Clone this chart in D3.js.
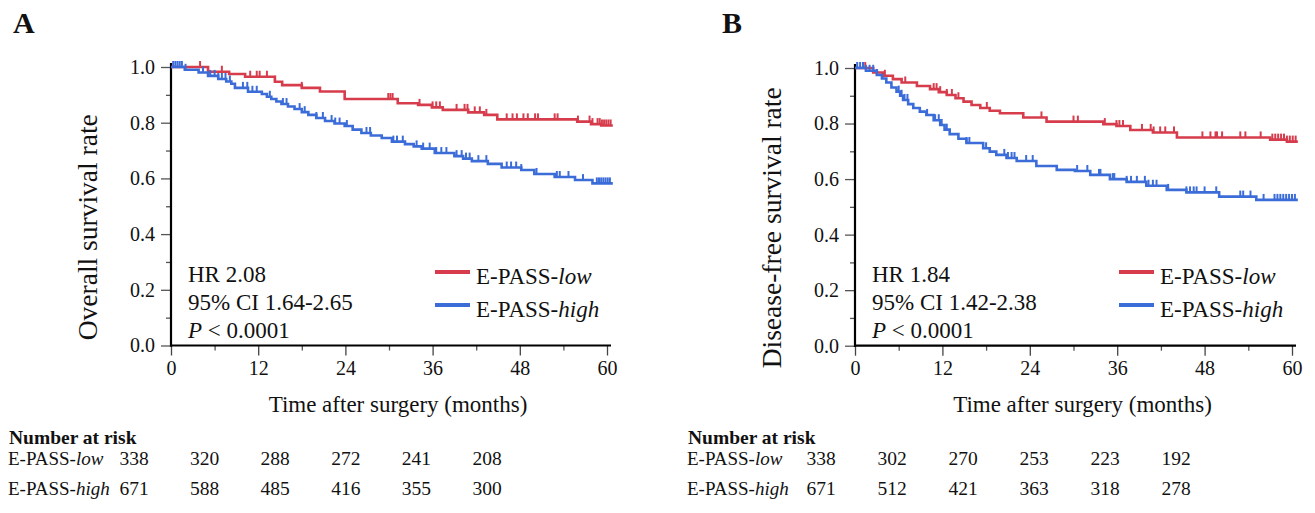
<!DOCTYPE html>
<html>
<head>
<meta charset="utf-8">
<script src="https://cdn.jsdelivr.net/npm/d3@7"></script>
<style>
  body { margin: 0; background: #fff; }
  svg text { font-family: "Liberation Serif", "Times New Roman", serif; fill: #111; }
</style>
</head>
<body>
<svg id="chart" width="1315" height="513"></svg>
<script>
// axis ticks
const monthTicks = [0, 12, 24, 36, 48, 60];
const monthMinor = [6, 18, 30, 42, 54];
const survTicks = [0, 0.2, 0.4, 0.6, 0.8, 1.0];
const survMinor = [0.1, 0.3, 0.5, 0.7, 0.9];
const groups = ["low", "high"];

// Kaplan-Meier steps [month, survival]
const osLow = [[0,1],[5.1,0.983],[8,0.975],[10.2,0.965],[14.3,0.947],[15.3,0.935],[18,0.925],[20.5,0.912],
  [23.9,0.885],[31.2,0.87],[34,0.864],[35.9,0.855],[37.4,0.846],[40.9,0.837],[43.1,0.828],[44.9,0.812],
  [55.9,0.804],[57.8,0.795],[59.2,0.79]];
const osHigh = [[0,1],[1.9,0.99],[3.8,0.98],[5.1,0.968],[6.5,0.957],[7.6,0.948],[8.3,0.94],[8.8,0.925],
  [10.6,0.911],[12.5,0.903],[13.2,0.893],[13.8,0.885],[14.5,0.876],[15.2,0.867],[16.1,0.858],[17,0.849],
  [18,0.838],[18.9,0.828],[20,0.817],[21.2,0.806],[22.5,0.797],[23.9,0.788],[25,0.775],[26.2,0.763],
  [27.5,0.754],[29,0.745],[30.4,0.732],[32.2,0.723],[33.4,0.715],[34.5,0.707],[36.3,0.691],[39,0.68],
  [40.2,0.671],[41.4,0.662],[43.6,0.652],[45.5,0.639],[48.2,0.63],[50,0.616],[52.8,0.605],[55.6,0.594],[58,0.582]];
const dfsLow = [[0,1],[2.5,0.984],[3.8,0.972],[5.2,0.96],[6.4,0.948],[8.5,0.935],[10.3,0.924],[11.5,0.913],
  [12.6,0.903],[13.8,0.891],[14.9,0.879],[16,0.867],[17.2,0.856],[18.5,0.846],[19.9,0.837],[23.1,0.822],
  [26.3,0.807],[34.1,0.798],[35.9,0.791],[37.8,0.777],[40.9,0.768],[44.2,0.75],[57,0.742],[59.3,0.735]];
const dfsHigh = [[0,1],[1.5,0.99],[3,0.975],[3.7,0.962],[4.3,0.948],[5,0.93],[5.7,0.915],[6.2,0.9],
  [6.6,0.885],[7.3,0.87],[8,0.856],[8.9,0.843],[9.8,0.831],[10.8,0.812],[11.7,0.795],[12.3,0.778],
  [13,0.762],[14.2,0.745],[15.3,0.73],[17.6,0.711],[18.5,0.699],[19.4,0.687],[20.8,0.676],[22.2,0.665],
  [24.9,0.647],[27.7,0.633],[30.2,0.629],[32.3,0.615],[35,0.6],[37.3,0.59],[40,0.576],[42.8,0.561],
  [45.5,0.552],[50,0.537],[55.1,0.525]];
const followEnd = 60.8;

// censor marks (months)
const osLowCens = [4,7,10.9,11.8,12.2,13.2,14.3,18,29.9,30.2,30.5,34.2,36,36.5,37,39.3,40.4,40.8,41.8,42.5,
  43.4,46.2,47,47.6,48.5,49.1,50.1,50.5,52.8,53.2,56,57.6,58,58.7,59,59.3,59.6,59.9,60.2,60.5];
const osHighCens = [0.3,0.6,0.9,1.2,1.5,2,4.4,5.4,6,6.5,7,7.5,8.1,9.9,10.5,11.2,11.8,13.6,15.4,15.9,17.7,18.4,
  20,20.9,22.1,22.6,23.2,24.2,26.9,27.4,30.6,31.1,31.9,33.8,34.7,35.6,36.5,37.2,37.9,39.3,40,40.6,41.1,42.3,
  43.4,46.2,46.8,47.5,48.2,50.3,53.1,53.5,54.7,56.7,58.6,58.9,59.2,59.5,59.8,60.1,60.4];
const dfsLowCens = [1.4,4.1,6.9,10.8,11.2,11.7,12.6,13.3,14.2,18.1,25.6,30,30.6,34.3,35.9,36.3,36.8,39.4,40.6,
  41,41.9,42.6,43.8,47.7,48.8,49.5,49.7,50.4,52.9,53.6,55.7,57.3,57.7,58.1,58.5,58.9,59.3,59.7,60.1,60.5];
const dfsHighCens = [0.3,0.7,1.1,1.5,2,2.5,3,6,6.4,6.8,7.2,9.9,11,11.5,11.9,12.6,15.3,15.7,18,20.5,21,21.5,
  21.9,23.5,24.4,30.5,31.9,33.5,33.7,35.4,35.6,37.3,37.9,38.7,39.8,40.3,40.9,41.4,43,45.5,46,46.5,46.9,48,
  49.6,52.9,53.3,54.3,56.1,57.6,58,58.4,58.8,59.2,59.6,60,60.4];

// number at risk
const riskMonths = [0, 12, 24, 36, 48, 60];
const osRiskLow = [338, 320, 288, 272, 241, 208];
const osRiskHigh = [671, 588, 485, 416, 355, 300];
const dfsRiskLow = [338, 302, 270, 253, 223, 192];
const dfsRiskHigh = [671, 512, 421, 363, 318, 278];

const osStats = ["HR 2.08", "95% CI 1.64-2.65", "0.0001"];
const dfsStats = ["HR 1.84", "95% CI 1.42-2.38", "0.0001"];

const colors = { low: "#d63c4c", high: "#3b6cd8" };
const svg = d3.select("#chart");

const panels = [
  { label: "A", title: "Overall survival rate", x0: 171, x1: 607, y0: 345.5, y1: 67,
    steps: { low: osLow, high: osHigh }, cens: { low: osLowCens, high: osHighCens },
    risk: { low: osRiskLow, high: osRiskHigh }, stats: osStats,
    labelX: 13, tableX: 8, riskRange: [134, 487] },
  { label: "B", title: "Disease-free survival rate", x0: 855, x1: 1292, y0: 345.7, y1: 68,
    steps: { low: dfsLow, high: dfsHigh }, cens: { low: dfsLowCens, high: dfsHighCens },
    risk: { low: dfsRiskLow, high: dfsRiskHigh }, stats: dfsStats,
    labelX: 722, tableX: 687, riskRange: [821, 1176] }
];

panels.forEach(drawPanel);

function drawPanel(p) {
  const x = d3.scaleLinear().domain([0, 60]).range([p.x0, p.x1]);
  const y = d3.scaleLinear().domain([0, 1]).range([p.y0, p.y1]);
  const g = svg.append("g");

  // panel letter
  g.append("text").attr("x", p.labelX).attr("y", 33)
    .style("font-size", "30px").style("font-weight", "bold").text(p.label);

  // y axis
  const yAxis = g.append("g").attr("transform", `translate(${p.x0},0)`)
    .call(d3.axisLeft(y).tickValues(survTicks).tickFormat(d3.format(".1f")).tickSize(10).tickPadding(6));
  yAxis.select(".domain").remove();
  yAxis.selectAll("line").attr("stroke", "#555").attr("stroke-width", 1.3);
  yAxis.selectAll("text").style("font-size", "20px").style("font-family", null);
  const yMinor = g.append("g").attr("transform", `translate(${p.x0},0)`)
    .call(d3.axisLeft(y).tickValues(survMinor).tickFormat("").tickSize(5));
  yMinor.select(".domain").remove();
  yMinor.selectAll("line").attr("stroke", "#555").attr("stroke-width", 1.3);

  // x axis
  const xAxis = g.append("g").attr("transform", `translate(0,${p.y0})`)
    .call(d3.axisBottom(x).tickValues(monthTicks).tickSize(10).tickPadding(5));
  xAxis.select(".domain").remove();
  xAxis.selectAll("line").attr("stroke", "#444").attr("stroke-width", 1.3);
  xAxis.selectAll("text").style("font-size", "20px").style("font-family", null);
  const xMinor = g.append("g").attr("transform", `translate(0,${p.y0})`)
    .call(d3.axisBottom(x).tickValues(monthMinor).tickFormat("").tickSize(5));
  xMinor.select(".domain").remove();
  xMinor.selectAll("line").attr("stroke", "#555").attr("stroke-width", 1.3);

  // axis lines
  g.append("line").attr("x1", x(0)).attr("x2", x(0)).attr("y1", y(0) + 1).attr("y2", y(1) - 4)
    .attr("stroke", "#000").attr("stroke-width", 2.2);
  g.append("line").attr("x1", x(0) - 1).attr("x2", x(60) + 4).attr("y1", y(0)).attr("y2", y(0))
    .attr("stroke", "#000").attr("stroke-width", 2.2);

  // titles
  g.append("text").attr("x", (p.x0 + p.x1) / 2 + 9).attr("y", 412)
    .attr("text-anchor", "middle").style("font-size", "23px").text("Time after surgery (months)");
  g.append("text").attr("transform", `translate(${p.x0 - 74},${(p.y0 + p.y1) / 2 + 21}) rotate(-90)`)
    .attr("text-anchor", "middle").style("font-size", "27.5px").text(p.title);

  // curves
  const line = d3.line().x(d => x(d[0])).y(d => y(d[1])).curve(d3.curveStepAfter);
  const bis = d3.bisector(d => d[0]).right;
  groups.forEach(k => {
    const steps = p.steps[k];
    const pts = steps.concat([[followEnd, steps[steps.length - 1][1]]]);
    g.append("path").datum(pts).attr("d", line)
      .attr("fill", "none").attr("stroke", colors[k]).attr("stroke-width", 2.6);
    g.append("g").selectAll("line").data(p.cens[k]).join("line")
      .attr("x1", d => x(d)).attr("x2", d => x(d))
      .attr("y1", d => y(steps[bis(steps, d) - 1][1]))
      .attr("y2", d => y(steps[bis(steps, d) - 1][1]) - 6)
      .attr("stroke", colors[k]).attr("stroke-width", 2);
  });

  // statistics
  const st = g.append("g").style("font-size", "23px");
  st.append("text").attr("x", p.x0 + 17).attr("y", 281.5).text(p.stats[0]);
  st.append("text").attr("x", p.x0 + 17).attr("y", 309.5).text(p.stats[1]);
  const pt = st.append("text").attr("x", p.x0 + 17).attr("y", 337.5);
  pt.append("tspan").style("font-style", "italic").text("P");
  pt.append("tspan").text(" < " + p.stats[2]);

  // legend
  const lg = g.append("g").style("font-size", "23px");
  groups.forEach((k, i) => {
    const ly = 272 + i * 33;
    lg.append("line").attr("x1", p.x0 + 264).attr("x2", p.x0 + 299).attr("y1", ly).attr("y2", ly)
      .attr("stroke", colors[k]).attr("stroke-width", 4);
    const t = lg.append("text").attr("x", p.x0 + 305).attr("y", ly + 11.5);
    t.append("tspan").text("E-PASS-");
    t.append("tspan").style("font-style", "italic").text(k);
  });

  // number at risk
  const rx = d3.scaleLinear().domain([0, 60]).range(p.riskRange);
  g.append("text").attr("x", p.tableX + 1).attr("y", 443.5)
    .style("font-size", "19.5px").style("font-weight", "bold").text("Number at risk");
  groups.forEach((k, i) => {
    const ry = 465 + i * 30;
    const t = g.append("text").attr("x", p.tableX).attr("y", ry).style("font-size", "19px");
    t.append("tspan").text("E-PASS-");
    t.append("tspan").style("font-style", "italic").text(k);
    g.append("g").selectAll("text").data(p.risk[k]).join("text")
      .attr("x", (d, j) => rx(riskMonths[j])).attr("y", ry)
      .attr("text-anchor", "middle").style("font-size", "19.5px").text(d => d);
  });
}
</script>
</body>
</html>
